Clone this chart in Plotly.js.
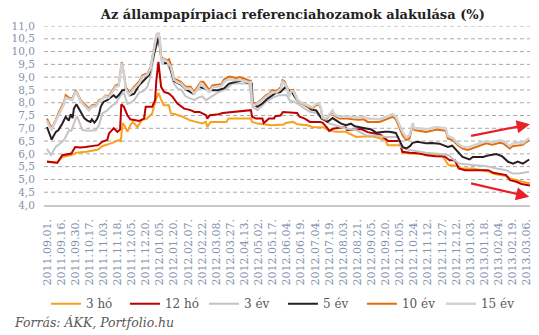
<!DOCTYPE html>
<html><head><meta charset="utf-8">
<script src="https://cdn.plot.ly/plotly-3.0.1.min.js"></script>
<style>body{margin:0;background:#fff}#c{width:539px;height:335px}</style>
</head><body><div id="c"></div>
<script>
// Tick labels (every 11th trading day)
const dateLabels = ["2011.09.01.","2011.09.16.","2011.09.30.","2011.10.17.","2011.11.03.","2011.11.18.","2011.12.05.","2011.12.20.","2012.01.05.","2012.01.20.","2012.02.07.","2012.02.22.","2012.03.08.","2012.03.27.","2012.04.13.","2012.05.02.","2012.05.17.","2012.06.04.","2012.06.19.","2012.07.04.","2012.07.19.","2012.08.03.","2012.08.21.","2012.09.05.","2012.09.20.","2012.10.05.","2012.10.24.","2012.11.12.","2012.11.27.","2012.12.12.","2013.01.03.","2013.01.18.","2013.02.04.","2013.02.19.","2013.03.06."];
const tickStep = 11;

const seriesNames = ["3 hó","12 hó","3 év","5 év","10 év","15 év"];
const seriesColors = ["#F6A21C","#C00000","#C4C4C4","#2A1E22","#E46C0A","#D2D2D2"];

// trading-day index / yield (%)
const d3ho = [0,5,8,12,19,23,31,40,43,51,56,57.5,59,61,62.7,65,67,70.5,74,78,82,84.8,86.9,88.7,91,95,96.6,100,106,111,116,121,124,125,127.5,140,141.5,159,159.8,164,175,185,186,192,195,203,207,216,219,225,233,241,251,256,264,265.6,276,277.3,290,298,308,313,321,323,332,340,345,349,358,361,366,374,376.5];
const v3ho = [5.71,5.69,5.65,5.88,5.95,6.04,6.08,6.17,6.30,6.43,6.54,6.47,7.21,7.05,6.86,7.12,7.25,7.05,7.32,7.38,7.58,8.10,8.38,8.16,7.90,7.90,7.58,7.55,7.45,7.32,7.25,7.19,7.25,7.05,7.25,7.25,7.38,7.38,7.25,7.19,7.12,7.15,7.21,7.25,7.16,7.12,7.05,7.03,6.93,6.86,6.86,6.66,6.69,6.66,6.54,6.34,6.34,6.04,5.99,6.00,5.95,5.56,5.52,5.43,5.43,5.36,5.30,5.21,5.13,5.04,4.97,4.87,4.84];

const d12ho = [0,8,12,19,22,26,30,40,43,47,48.4,52,55,57,58,60,62.7,65,72,75.7,77,82,84.3,85.3,86.9,88,89,91.3,95,98,101.7,107,112,115,119,124,125,127,134,137,145,150,156,159,160,163,168,169,171,173,177,178,182,184,195,197,201,205,213,215,219,220,223,229,233,234,241,245,250,256,260,266,275,276,277,283,290,296,303,310,314,318,321,326,344,348,358,361,366,370,376.5];
const v12ho = [5.69,5.65,5.95,6.01,6.27,6.25,6.27,6.34,6.47,6.54,6.80,7.00,6.86,6.95,7.94,7.84,7.51,7.35,7.29,7.38,7.84,7.84,8.10,8.88,9.60,9.07,8.62,8.42,8.36,8.23,7.97,7.77,7.71,7.64,7.64,7.51,7.38,7.51,7.55,7.60,7.64,7.67,7.71,7.71,7.45,7.38,7.38,7.21,7.29,7.38,7.38,7.47,7.50,7.64,7.60,7.45,7.38,7.25,7.25,7.21,6.99,6.90,6.98,7.03,7.03,6.93,6.95,6.97,6.85,6.80,6.75,6.50,6.50,6.27,6.08,6.04,6.02,5.95,5.91,5.90,5.75,5.75,5.43,5.36,5.36,5.26,5.17,4.97,4.91,4.82,4.76];

const d3ev = [0,3,6.8,11.9,14,17.2,19,22.4,23.7,25,27.6,31.5,34,38,40.6,43.2,47,51,53.6,57.5,60,62.7,65,68,72,75,78,80,82,84,86.9,88.7,90,91.3,94,96.6,99,102,105,108,112,115,118,121,124,127,130,134,140,144.6,150,157.7,160.3,164,168,170.7,176,181,187,189,192,196,200,205,210,214,220,226,233,241,248.8,256,264.4,274,276,282.6,290,295.6,305,310,313.3,317.7,321.6,332,343,350.4,358,363,368,376];
const v3ev = [6.20,5.95,6.27,6.47,6.60,6.93,6.90,7.38,7.45,7.30,6.93,6.90,6.90,6.92,7.12,7.58,7.70,7.90,7.97,8.29,8.40,7.95,8.00,8.10,8.40,8.45,8.60,8.90,9.40,10.00,10.60,10.00,9.50,9.60,9.50,9.20,8.75,8.55,8.50,8.25,8.15,8.10,8.20,8.25,8.10,8.20,8.30,8.42,8.55,8.75,8.75,8.75,7.84,7.71,7.90,8.03,8.20,8.29,8.29,8.10,8.05,7.95,7.80,7.64,7.60,7.45,7.19,7.10,6.99,6.93,6.73,6.72,6.66,6.66,6.27,6.15,6.08,6.04,6.00,5.96,5.95,5.75,5.62,5.56,5.52,5.43,5.36,5.23,5.23,5.30];

const d5ev = [0,2,3.7,6.8,9,12,14.6,17,18.5,20,21,23,24,26.3,29,31.5,34,35,37,39,40.6,42,44,47,50,52,54,56,58.8,60,62,62.7,65,68,71.8,75.7,79.6,84,87,89,91,95,99,104,109,114,118.7,126.5,133,138,142,152.5,156,159.8,160.3,164,168,172,178.5,182,186,188,191,195,200,203,206,210,214,218.8,222.7,229,233,237,240,244,248.8,253,256.6,263,267,272,274.8,277.3,280,283,285,289,295.6,300,306,312.5,316,320,324,329.5,332,340,345,350.4,355,359.5,363.4,367,371,376];
const v5ev = [7.05,6.75,6.56,6.85,6.93,7.19,7.45,7.30,7.55,7.40,7.77,7.94,7.85,7.60,7.40,7.30,7.25,7.35,7.22,7.35,7.55,7.85,8.03,8.10,8.20,8.29,8.20,8.30,8.49,8.50,8.55,8.49,8.29,8.35,8.68,8.88,9.08,10.00,10.55,9.80,9.55,9.55,8.85,8.72,8.50,8.35,8.62,8.49,8.49,8.56,8.75,8.88,8.78,8.75,7.97,7.84,7.97,8.16,8.38,8.42,8.62,8.50,8.40,8.10,7.95,7.85,7.73,7.70,7.38,7.25,7.40,7.19,7.12,7.18,7.08,7.05,6.99,6.95,6.83,6.86,6.86,6.82,6.54,6.27,6.21,6.30,6.43,6.47,6.41,6.42,6.40,6.27,6.32,6.08,5.88,5.78,5.88,5.88,5.95,5.99,5.90,5.69,5.62,5.70,5.62,5.78];

const d10ev = [0,1.6,3.7,6.8,9.4,13.3,14.6,17,19.7,22.4,23,26.3,28.9,32.8,35,38,40.6,43,45.8,48,51,53.6,56,58.3,60.1,61.4,64,66,67.9,71.8,74.4,78.3,80.9,82.2,83.5,85.3,86.9,88,88.7,90,91.3,93.9,95.2,96.6,99.1,101.7,104.4,108.3,112,114.7,117,120,122,124.4,126.5,129,136,138.2,142.1,145,147.3,149.9,153.8,157.7,159,159.8,161.6,164,166.8,170.7,173.3,175.9,179,182.4,183.7,185,186.3,187.6,188.5,190.2,192,195.4,198,201,203.2,207.1,209.7,212,213.6,214.9,217.5,220.1,222.7,224,227.9,234,238.3,243,247,250,259.2,265,269.5,272,274.8,277.3,280,282.6,285.2,286.5,290,295.6,300,303.4,308,311,312.5,316.4,320.3,324.2,328.2,332,336,342.6,347,353,356,360.8,363,368,371,373.9,376];
const v10ev = [7.38,7.19,7.00,7.32,7.64,8.03,8.29,8.20,8.16,8.49,8.42,8.10,7.97,7.77,7.90,7.90,8.10,8.15,8.29,8.25,8.49,8.68,8.72,9.59,9.14,8.62,8.36,8.50,8.62,8.82,9.07,9.14,9.40,9.79,10.18,10.64,10.73,10.51,9.92,9.53,9.73,9.66,9.70,9.47,8.95,8.88,8.82,8.62,8.62,8.42,8.60,8.82,8.82,8.62,8.49,8.68,8.72,8.92,9.02,9.00,8.95,9.00,8.95,8.86,8.86,8.03,7.97,8.00,8.10,8.29,8.36,8.49,8.45,8.62,8.88,8.85,8.70,8.56,8.23,8.49,8.50,8.10,7.97,7.92,7.84,7.77,7.90,7.92,7.77,7.38,7.32,7.51,7.64,7.50,7.38,7.38,7.35,7.33,7.35,7.25,7.25,7.35,7.45,7.35,7.05,6.73,6.54,6.60,7.12,6.93,6.90,6.86,6.90,6.95,6.92,6.90,6.60,6.54,6.34,6.21,6.15,6.22,6.27,6.41,6.36,6.43,6.40,6.21,6.30,6.34,6.35,6.47,6.54];

const d15ev = [0,1.6,3.7,6.8,9.4,13.3,14.6,17,19.7,22.4,26.3,28.9,32.8,35,38,40.6,45.8,48,51,53.6,56,58.3,60.1,61.4,64,67.9,71.8,74.4,78.3,80.9,82.2,83.5,85.3,86.9,88,88.7,90,91.3,93.9,96.6,99.1,101.7,104.4,108.3,112,114.7,117,120,124.4,126.5,129,136,138.2,142.1,147.3,149.9,153.8,157.7,159,159.8,161.6,166.8,170.7,175.9,179,182.4,183.7,186.3,187.6,188.5,190.2,192,195.4,198,203.2,207.1,209.7,212,213.6,214.9,217.5,220.1,222.7,224,227.9,234,243,247,250,259.2,265,269.5,272,274.8,277.3,280,282.6,285.2,286.5,290,295.6,300,303.4,311,312.5,316.4,320.3,324.2,328.2,332,336,342.6,347,353,356,360.8,363,368,371,373.9,376];
const v15ev = [7.30,7.10,6.95,7.25,7.55,7.95,8.20,8.15,8.10,8.45,8.05,7.90,7.70,7.85,7.85,8.05,8.25,8.20,8.45,8.62,8.66,9.55,9.10,8.55,8.30,8.55,8.75,9.00,9.10,9.35,9.75,10.15,10.62,10.75,10.45,9.90,9.50,9.70,9.60,9.40,8.90,8.80,8.75,8.55,8.55,8.35,8.50,8.75,8.55,8.42,8.60,8.65,8.82,8.92,8.88,8.90,8.85,8.78,8.80,7.95,7.90,8.05,8.22,8.42,8.40,8.55,8.85,8.68,8.50,8.20,8.45,8.45,8.10,8.00,7.90,7.82,7.95,7.98,7.80,7.42,7.38,7.55,7.70,7.55,7.45,7.45,7.42,7.45,7.38,7.35,7.45,7.55,7.45,7.15,6.85,6.65,6.72,7.20,7.00,7.00,6.95,7.00,7.05,7.00,6.70,6.62,6.40,6.28,6.25,6.32,6.38,6.50,6.45,6.52,6.50,6.30,6.40,6.45,6.42,6.55,6.62];

const yTickVals = [4,4.5,5,5.5,6,6.5,7,7.5,8,8.5,9,9.5,10,10.5,11];
const yTickText = ["4,0","4,5","5,0","5,5","6,0","6,5","7,0","7,5","8,0","8,5","9,0","9,5","10,0","10,5","11,0"];

// trend arrows: [tail day, tail value, head day, head value]
const arrows = [[329.5,6.69,376.5,7.16],[329.5,4.86,376,4.32]];

const xRange = [-2.3,376.6];

// dashed horizontal gridlines as a background line trace (one segment per y tick)
const gx = [], gy = [];
yTickVals.filter(v=>v>4).forEach(v=>{ gx.push(xRange[0], xRange[1], null); gy.push(v, v, null); });
const gridTrace = {x:gx, y:gy, type:'scatter', mode:'lines', showlegend:false, hoverinfo:'skip',
  line:{color:'#A9A9A9', width:1, dash:'4px,3px'}, connectgaps:false};

const xs = [d3ho,d12ho,d3ev,d5ev,d10ev,d15ev];
const ys = [v3ho,v12ho,v3ev,v5ev,v10ev,v15ev];
const widths = [2,2,2,2,2,2.5];
const traces = [gridTrace].concat(seriesNames.map((n,i)=>({
  x: xs[i], y: ys[i], name: n, type:'scatter', mode:'lines',
  line:{color:seriesColors[i], width:widths[i]}
})));

const axColor = '#8193AE';
const layout = {
  width:539, height:335,
  margin:{l:44,r:9,t:26,b:130},
  paper_bgcolor:'#fff', plot_bgcolor:'#fff',
  title:{text:'Az állampapírpiaci referenciahozamok alakulása (%)', font:{family:'DejaVu Serif', size:13, color:'#222', weight:'bold'}, x:0.512, xref:'paper', xanchor:'center', y:0.958, yanchor:'middle'},
  xaxis:{range:xRange, tickvals:dateLabels.map((_,i)=>i*tickStep), ticktext:dateLabels, tickangle:-90,
    tickfont:{family:'DejaVu Serif', size:11, color:axColor}, showgrid:false, zeroline:false, showline:true, linecolor:'#C8C8C8', linewidth:1.5,
    ticks:'outside', ticklen:8, tickcolor:'rgba(0,0,0,0)'},
  yaxis:{range:[4,11], tickvals:yTickVals, ticktext:yTickText, tickfont:{family:'DejaVu Serif', size:10.5, color:axColor},
    showgrid:false, zeroline:false, showline:false,
    ticks:'outside', ticklen:6, tickcolor:'rgba(0,0,0,0)'},
  showlegend:true,
  legend:{orientation:'h', x:0.004, xanchor:'left', y:-0.47, yanchor:'top', font:{family:'DejaVu Serif', size:12, color:'#595959'}, entrywidth:34, entrywidthmode:'pixels', itemwidth:30, bgcolor:'rgba(0,0,0,0)'},
  annotations:[
    {text:'Forrás: ÁKK, Portfolio.hu', xref:'paper', yref:'paper', x:-0.065, y:-0.655, xanchor:'left', yanchor:'middle', showarrow:false, font:{family:'DejaVu Serif', size:12.5, color:'#595959', style:'italic'}}
  ].concat(arrows.map(a=>({x:a[2], y:a[3], ax:a[0], ay:a[1], xref:'x', yref:'y', axref:'x', ayref:'y', text:'', showarrow:true, arrowhead:2, arrowsize:1.2, arrowwidth:2.2, arrowcolor:'#E8202A'})))
};
Plotly.newPlot('c', traces, layout, {staticPlot:true});
</script></body></html>
